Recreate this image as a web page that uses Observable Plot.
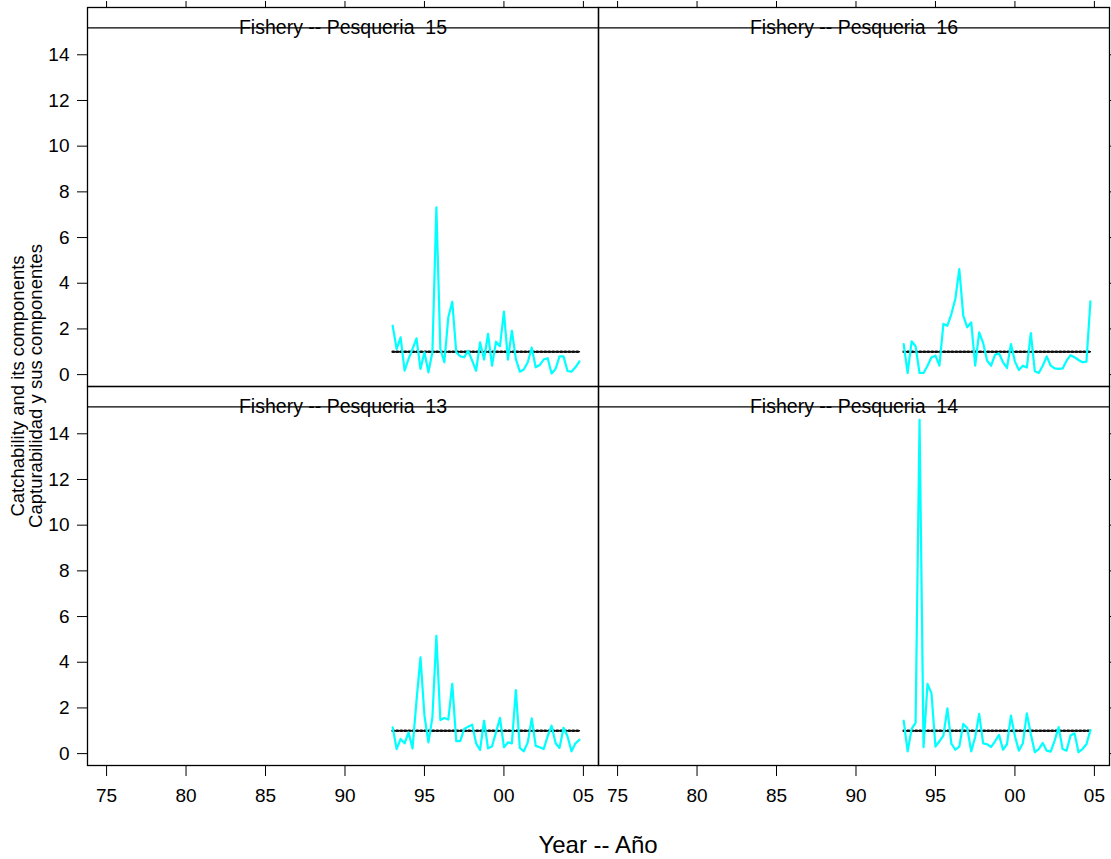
<!DOCTYPE html>
<html>
<head>
<meta charset="utf-8">
<script src="https://cdn.jsdelivr.net/npm/d3@7"></script>
<script src="https://cdn.jsdelivr.net/npm/@observablehq/plot@0.6"></script>
<style>
  html, body { margin: 0; padding: 0; background: #fff; }
  #chart { position: relative; width: 1111px; height: 859px; }
</style>
</head>
<body>
<div id="chart"></div>
<script>
// Quarterly time steps (1993.00 .. 2004.75)
const years = d3.range(48).map(i => 1993 + i / 4);

// Catchability series, one per fishery
const q15 = [2.14,1.12,1.63,0.17,0.69,1.12,1.59,0.25,0.98,0.10,0.98,7.32,1.12,0.54,2.51,3.19,
             0.98,0.80,0.76,1.05,0.61,0.17,1.41,0.66,1.78,0.39,1.44,1.24,2.76,0.66,1.92,0.69,
             0.13,0.22,0.54,1.18,0.32,0.42,0.66,0.72,0.05,0.25,0.80,0.80,0.16,0.13,0.32,0.58];
const q16 = [1.34,0.07,1.46,1.24,0.07,0.07,0.39,0.76,0.83,0.39,2.22,2.14,2.65,3.31,4.62,2.58,
             2.07,2.29,0.39,1.85,1.39,0.61,0.39,0.87,0.93,0.54,0.29,1.34,0.57,0.20,0.39,0.31,
             1.82,0.15,0.07,0.39,0.80,0.39,0.27,0.25,0.27,0.61,0.85,0.76,0.64,0.54,0.57,3.21];
const q13 = [1.15,0.20,0.64,0.45,0.93,0.23,2.32,4.21,1.66,0.49,1.59,5.16,1.47,1.56,1.49,3.05,
             0.55,0.55,1.08,1.18,1.27,0.45,0.16,1.44,0.23,0.31,0.93,1.56,0.28,0.49,0.45,2.78,
             0.25,0.10,0.49,1.54,0.34,0.28,0.20,0.76,1.22,0.45,0.25,1.13,0.76,0.10,0.45,0.61];
const q14 = [1.44,0.10,1.08,1.35,14.61,0.28,3.05,2.64,0.31,0.54,0.79,1.98,0.44,0.17,0.31,1.30,
             1.12,0.10,0.73,1.74,0.45,0.41,0.29,0.54,0.82,0.17,0.41,1.66,0.76,0.13,0.45,1.76,
             0.86,0.06,0.20,0.47,0.13,0.09,0.57,1.16,0.20,0.13,0.79,0.89,0.06,0.20,0.41,1.03];
const refValue = 1;

const panelLabels = ["Fishery -- Pesqueria  15", "Fishery -- Pesqueria  16",
                     "Fishery -- Pesqueria  13", "Fishery -- Pesqueria  14"];
const panelCols = [0, 1, 0, 1];
const panelRows = [0, 0, 1, 1];
const panelSeries = [q15, q16, q13, q14];

const xTicks = [1975, 1980, 1985, 1990, 1995, 2000, 2005];
const yTicks = [0, 2, 4, 6, 8, 10, 12, 14];

const xDomain = [1973.8, 2005.95];
const yDomain = [-0.52, 16.07];
const stripBottom = 15.18;

const rows = panelLabels.flatMap((label, p) =>
  years.map((year, i) => ({label, col: panelCols[p], row: panelRows[p], year, q: panelSeries[p][i], ref: refValue})));
const strips = panelLabels.map((label, p) => ({label, col: panelCols[p], row: panelRows[p], yb: stripBottom}));

const font = "'Liberation Sans', Arial, Helvetica, sans-serif";

const chart = Plot.plot({
  width: 1111,
  height: 859,
  marginLeft: 87.3,
  marginRight: 1.7,
  marginTop: 6.7,
  marginBottom: 94,
  style: {fontFamily: font, fontSize: "19px", color: "black", background: "white"},
  x: {domain: xDomain},
  y: {domain: yDomain},
  fx: {axis: null, padding: 0, domain: [0, 1]},
  fy: {axis: null, padding: 0, domain: [0, 1]},
  marks: [
    Plot.ruleY(strips, {fx: "col", fy: "row", y: "yb", stroke: "black", strokeWidth: 1.3}),
    Plot.text(strips, {fx: "col", fy: "row", text: "label", frameAnchor: "top", dy: 12.5, fontSize: 19.5, fill: "black"}),
    Plot.line(rows, {fx: "col", fy: "row", x: "year", y: "ref", z: "label", stroke: "black", strokeWidth: 1.4}),
    Plot.line(rows, {fx: "col", fy: "row", x: "year", y: "ref", z: "label", stroke: "#111", strokeWidth: 2.6, strokeDasharray: "1.2,2.8"}),
    Plot.line(rows, {fx: "col", fy: "row", x: "year", y: "q", z: "label", stroke: "#00ffff", strokeWidth: 2.2}),
    Plot.frame({stroke: "black", strokeWidth: 1.3}),
    Plot.axisX({ticks: xTicks, tickFormat: d => String(d % 100).padStart(2, "0"), tickSize: 11, tickPadding: 12, label: null, fontSize: 19}),
    Plot.axisX({anchor: "top", ticks: xTicks, tickFormat: () => "", tickSize: 7, label: null}),
    Plot.axisY({ticks: yTicks, tickSize: 10, tickPadding: 8, label: null, fontSize: 19}),
    Plot.axisY({anchor: "right", ticks: yTicks, tickFormat: () => "", tickSize: 10, label: null})
  ]
});

document.getElementById("chart").appendChild(chart);

// Axis titles
const svg = d3.select(chart);
const ylab = svg.append("g").attr("font-family", font).attr("font-size", 18.5).attr("fill", "black");
ylab.append("text").attr("transform", "translate(18,386) rotate(-90)")
  .attr("text-anchor", "middle").attr("dy", "0.35em").text("Catchability and its components");
ylab.append("text").attr("transform", "translate(36,386) rotate(-90)")
  .attr("text-anchor", "middle").attr("dy", "0.35em").text("Capturabilidad y sus componentes");
svg.append("text").attr("x", 598).attr("y", 845).attr("text-anchor", "middle").attr("dy", "0.35em")
  .attr("font-family", font).attr("font-size", 24).attr("fill", "black").text("Year -- Año");
</script>
</body>
</html>
